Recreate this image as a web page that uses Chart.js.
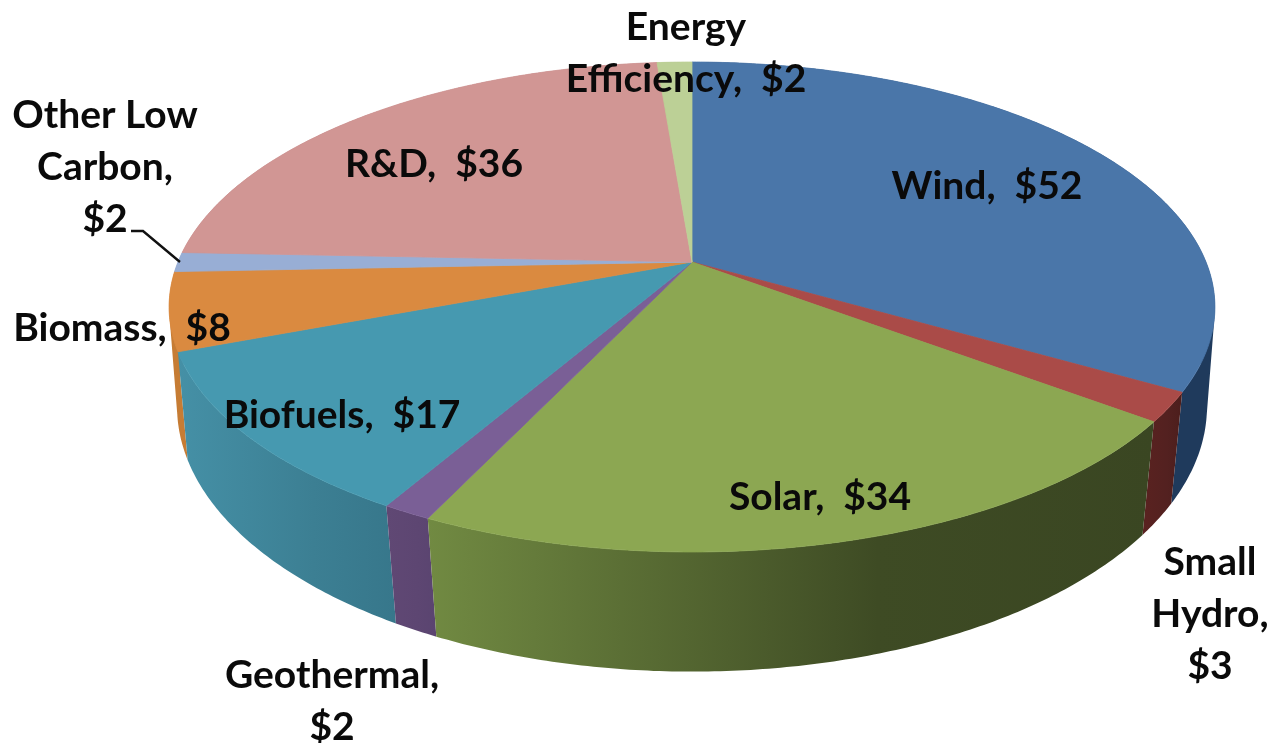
<!DOCTYPE html>
<html>
<head>
<meta charset="utf-8">
<title>Investment by sector</title>
<script src="https://cdn.jsdelivr.net/npm/chart.js@4/dist/chart.umd.js"></script>
<style>
  html, body { margin: 0; padding: 0; background: #fff; }
  canvas { display: block; filter: blur(0.5px); }
</style>
</head>
<body>
<canvas id="pieChart" width="1272" height="743"></canvas>
<script>
const categories = ['Wind', 'Small Hydro', 'Solar', 'Geothermal', 'Biofuels', 'Biomass', 'Other Low Carbon', 'R&D', 'Energy Efficiency'];
const values = [52, 3, 34, 2, 17, 8, 2, 36, 2];
const labelLines = [
    ['Wind,  $52'],
    ['Small', 'Hydro,', '$3'],
    ['Solar,  $34'],
    ['Geothermal,', '$2'],
    ['Biofuels,  $17'],
    ['Biomass,  $8'],
    ['Other Low', 'Carbon,', '$2'],
    ['R&D,  $36'],
    ['Energy', 'Efficiency,  $2']
];

// colours
const topColors = ['#4a76a9', '#aa4b48', '#8ca752', '#7a5f96', '#4699b0', '#da8a40', '#98aed5', '#d19694', '#bcd096'];
const wallLeft = ['#1f3a5c', '#5a2220', '#718a42', '#604874', '#4590a6', '#c67c34', '#7f93b5', '#b07c7a', '#9eb07c'];
const wallMid = ['#1f3a5c', '#532120', '#3e4b24', '#5d4672', '#3c7f93', '#c67c34', '#7f93b5', '#b07c7a', '#9eb07c'];
const wallRight = ['#1f3a5c', '#4c1e1c', '#3a4622', '#5a4470', '#37778b', '#c67c34', '#7f93b5', '#b07c7a', '#9eb07c'];

// label layout: centre x and first baseline
const labelX = [987, 1210, 820, 332, 342, 122, 105, 434, 686];
const labelY = [199, 575, 510, 688, 428, 341, 128, 177, 40];
const lineGap = 52;

// perspective of the top and bottom faces of the pie
const topFace = { cx: 692, cy: 262, a: 236.7, b: 514, k: 0.1837 };
const bottomFace = { cx: 692, cy: 363, a: 258, b: 508, k: 0.164 };

function project(face, angle) {
    // chart.js angles start at -PI/2 (top of the pie)
    const u = Math.cos(angle);
    const v = Math.sin(angle);
    const d = 1 - face.k * v;
    return { x: face.cx + face.b * u / d, y: face.cy + face.a * v / d };
}

function arcPoints(face, start, end) {
    const pts = [];
    const steps = Math.max(2, Math.ceil((end - start) / 0.01));
    for (let i = 0; i <= steps; i++) {
        pts.push(project(face, start + (end - start) * i / steps));
    }
    return pts;
}

// adds a quad to the current path, always wound the same way
function addQuad(ctx, quad) {
    let area = 0;
    quad.forEach((p, i) => {
        const q = quad[(i + 1) % 4];
        area += p.x * q.y - q.x * p.y;
    });
    const pts = area < 0 ? quad.slice().reverse() : quad;
    pts.forEach((p, i) => (i ? ctx.lineTo(p.x, p.y) : ctx.moveTo(p.x, p.y)));
    ctx.closePath();
}

const pie3d = {
    id: 'pie3d',
    beforeDatasetsDraw(chart) {
        const ctx = chart.ctx;
        const arcs = chart.getDatasetMeta(0).data;

        // side walls, back ones first
        const order = arcs.map((arc, i) => i).sort((p, q) => {
            const mid = (arc) => Math.sin((arc.startAngle + arc.endAngle) / 2);
            return mid(arcs[p]) - mid(arcs[q]);
        });
        order.forEach((i) => {
            const arc = arcs[i];
            const upper = arcPoints(topFace, arc.startAngle, arc.endAngle);
            const lower = arcPoints(bottomFace, arc.startAngle, arc.endAngle);
            const xs = upper.concat(lower).map((p) => p.x);
            const grad = ctx.createLinearGradient(Math.min(...xs), 0, Math.max(...xs), 0);
            grad.addColorStop(0, wallLeft[i]);
            grad.addColorStop(0.62, wallMid[i]);
            grad.addColorStop(1, wallRight[i]);
            ctx.fillStyle = grad;
            // quads in one path so the silhouette is filled without seams
            ctx.beginPath();
            for (let n = 0; n < upper.length - 1; n++) {
                addQuad(ctx, [upper[n], upper[n + 1], lower[n + 1], lower[n]]);
            }
            ctx.fill();
        });

        // top face
        arcs.forEach((arc) => {
            ctx.beginPath();
            ctx.moveTo(topFace.cx, topFace.cy);
            arcPoints(topFace, arc.startAngle, arc.endAngle).forEach((p) => ctx.lineTo(p.x, p.y));
            ctx.closePath();
            ctx.fillStyle = arc.options.backgroundColor;
            ctx.strokeStyle = arc.options.backgroundColor;
            ctx.lineWidth = 0.8;
            ctx.fill();
            ctx.stroke();
        });
        return false;
    },
    afterDraw(chart) {
        const ctx = chart.ctx;

        // leader line of Other Low Carbon
        ctx.beginPath();
        ctx.moveTo(131, 231);
        ctx.lineTo(143, 231);
        ctx.lineTo(180, 262);
        ctx.strokeStyle = '#111';
        ctx.lineWidth = 2.4;
        ctx.stroke();

        ctx.font = 'bold 39px Lato';
        ctx.fillStyle = '#0a0a0a';
        ctx.textAlign = 'center';
        ctx.textBaseline = 'alphabetic';
        labelLines.forEach((lines, i) => {
            lines.forEach((line, n) => {
                ctx.fillText(line, labelX[i], labelY[i] + n * lineGap);
            });
        });
    }
};

new Chart(document.getElementById('pieChart').getContext('2d'), {
    type: 'pie',
    data: {
        labels: categories,
        datasets: [{
            data: values,
            backgroundColor: topColors,
            borderWidth: 0
        }]
    },
    options: {
        responsive: false,
        animation: false,
        plugins: {
            legend: { display: false },
            tooltip: { enabled: false }
        }
    },
    plugins: [pie3d]
});
</script>
</body>
</html>
